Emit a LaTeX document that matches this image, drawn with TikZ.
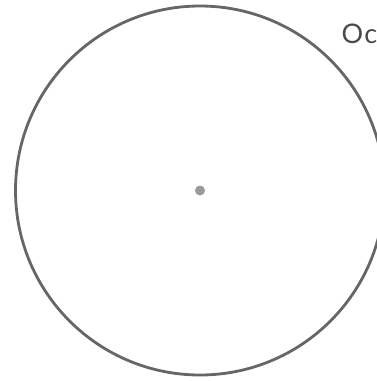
\documentclass[tikz,border=0pt]{standalone}
\usepackage{fontspec}
\setmainfont{Lato}
\definecolor{ringgray}{HTML}{666666}
\definecolor{dotgray}{HTML}{9A9A9A}
\definecolor{textgray}{HTML}{4A4A4A}
\begin{document}
\begin{tikzpicture}[x=1pt,y=-1pt,
  ring/.style={draw=ringgray,line width=2.8pt},
  centerdot/.style={circle,fill=dotgray,inner sep=0pt,minimum size=10pt},
  label/.style={text=textgray,font=\fontsize{27}{32}\selectfont,anchor=base west,inner sep=0pt}]
\useasboundingbox (0,0) rectangle (377,381);
\clip (0,0) rectangle (377,381);
\coordinate (c) at (200,190.5);
\draw[ring] (c) circle[radius=184.5];
\node[centerdot] (dot) at (c) {};
\node[label] (title) at (341.5,43.5) {O\kern1pt c};
\end{tikzpicture}
\end{document}
